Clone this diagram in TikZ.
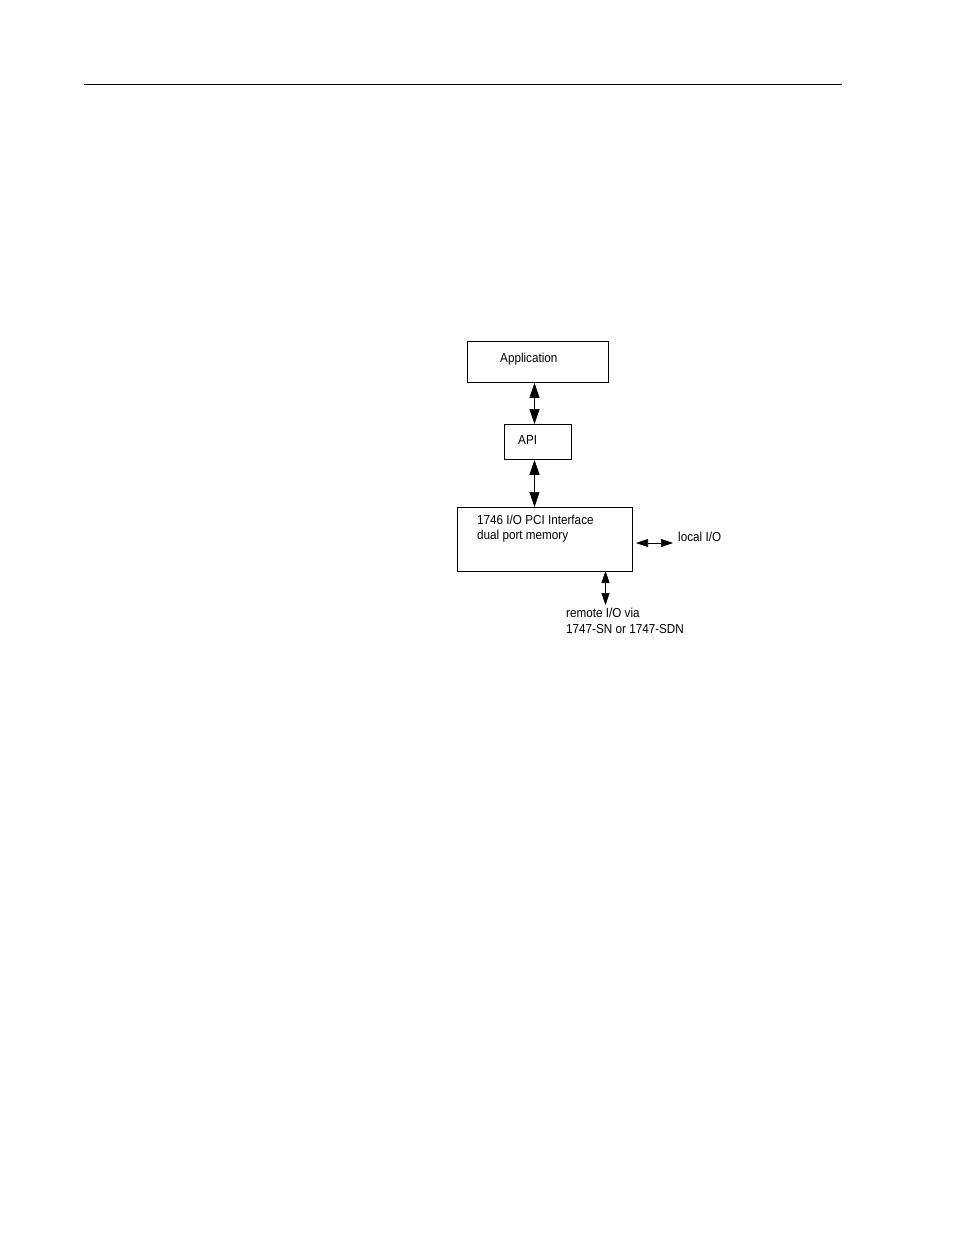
\documentclass[tikz,border=0pt]{standalone}
\usepackage{fontspec}
\setmainfont{Liberation Sans}[FakeStretch=0.9]
\usetikzlibrary{arrows.meta}
\begin{document}
\begin{tikzpicture}[x=1pt,y=-1pt,
  box/.style={draw,line width=0.9pt,inner sep=0pt},
  lbl/.style={anchor=base west,inner sep=0pt,font=\fontsize{13}{15}\selectfont},
  dbl/.style={line width=0.7pt,{Triangle[length=15pt,width=10pt]}-{Triangle[length=15pt,width=10pt]}},
  dbls/.style={line width=0.7pt,{Triangle[length=12pt,width=8pt]}-{Triangle[length=12pt,width=8pt]}}]
\useasboundingbox (0,0) rectangle (954,1235);
\draw[line width=1pt] (84,84.5) coordinate (hl) -- (842,84.5) coordinate (hr);
\node[box,minimum width=141pt,minimum height=41pt,anchor=north west] (app) at (467,341) {};
\node[lbl] (apptxt) at (500,362.5) {Application};
\node[box,minimum width=67pt,minimum height=35pt,anchor=north west] (api) at (504,424) {};
\node[lbl] (apitxt) at (518,444.5) {API};
\node[box,minimum width=175pt,minimum height=64pt,anchor=north west] (pci) at (456.5,507) {};
\node[lbl] (pcitxt1) at (477,524.5) {1746 I/O PCI Interface};
\node[lbl] (pcitxt2) at (477,539.5) {dual port memory};
\node[lbl] (local) at (678,541.5) {local I/O};
\node[lbl] (remote1) at (566,617.5) {remote I/O via};
\node[lbl] (remote2) at (566,633.5) {1747-SN or 1747-SDN};
\coordinate (la) at (636,543);
\coordinate (lb) at (673,543);
\coordinate (ra) at (605.5,571);
\coordinate (rb) at (605.5,605);
\draw[dbl] (app.south -| 534.5,0) -- (api.north -| 534.5,0);
\draw[dbl] (api.south -| 534.5,0) -- (pci.north -| 534.5,0);
\draw[dbls] (la) -- (lb);
\draw[dbls] (ra) -- (rb);
\end{tikzpicture}
\end{document}
